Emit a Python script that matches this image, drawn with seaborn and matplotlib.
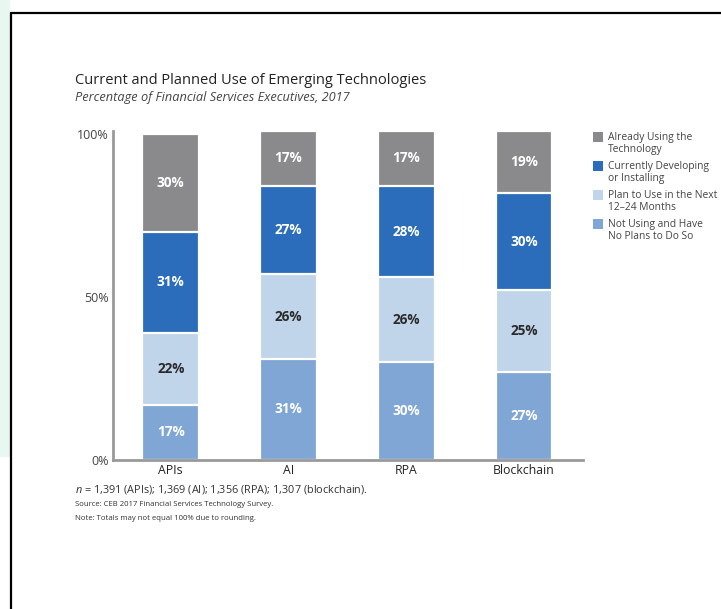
import matplotlib
matplotlib.use("Agg")
import matplotlib.pyplot as plt
import seaborn as sns
import pandas as pd
import numpy as np
from matplotlib.patches import Patch, Rectangle
from matplotlib.lines import Line2D

categories = ["APIs", "AI", "RPA", "Blockchain"]
not_using = [17, 31, 30, 27]
plan_to_use = [22, 26, 26, 25]
developing = [31, 27, 28, 30]
already_using = [30, 17, 17, 19]

series_names = ["Not Using and Have\nNo Plans to Do So",
                "Plan to Use in the Next\n12–24 Months",
                "Currently Developing\nor Installing",
                "Already Using the\nTechnology"]
series_vals = [not_using, plan_to_use, developing, already_using]
colors = ["#7fa6d5", "#c0d4ea", "#2b6dbb", "#8a8a8c"]
text_colors = ["white", "#2a2a2a", "white", "white"]
yticks = [0, 50, 100]
ytick_labels = ["0%", "50%", "100%"]

sns.set_theme(style="white")
FONT = "Open Sans"
plt.rcParams["font.family"] = [FONT, "DejaVu Sans"]
plt.rcParams["mathtext.fontset"] = "custom"
plt.rcParams["mathtext.it"] = f"{FONT}:italic"
plt.rcParams["mathtext.rm"] = FONT

fig = plt.figure(figsize=(7.21, 6.09), dpi=100)
fig.patch.set_facecolor("white")

# screenshot frame
fig.add_artist(Rectangle((0, 0.25), 10/721, 0.75, transform=fig.transFigure, color="#e8f7ef", lw=0, zorder=0))
fig.add_artist(Line2D([11/721, 11/721], [0, (609-13)/609], transform=fig.transFigure, color="black", lw=1.6))
fig.add_artist(Line2D([11/721, 1], [(609-13)/609, (609-13)/609], transform=fig.transFigure, color="black", lw=1.6))

ax = fig.add_axes([113/721, (609-460)/609, (583-113)/721, (460-130.7)/609])

df = pd.DataFrame({"category": categories})
cum = np.zeros(len(categories))
cums = []
for vals in series_vals:
    cum = cum + np.array(vals)
    cums.append(cum.copy())

# draw from tallest cumulative to shortest
for i in range(len(series_vals) - 1, -1, -1):
    d = df.copy()
    d["value"] = cums[i]
    sns.barplot(data=d, x="category", y="value", color=colors[i], width=0.48,
                edgecolor="white", linewidth=1.6, ax=ax, saturation=1, errorbar=None,
                order=categories)

for i, vals in enumerate(series_vals):
    for j, v in enumerate(vals):
        mid = cums[i][j] - v / 2
        ax.text(j, mid, f"{v}%", ha="center", va="center", fontsize=9.8,
                fontweight="bold", color=text_colors[i])

ax.set_xlim(-0.49, 3.5)
ax.set_ylim(0, 101)
ax.set_yticks(yticks)
ax.set_yticklabels(ytick_labels, fontsize=9, color="#444444")
ax.set_xlabel("")
ax.set_ylabel("")
ax.tick_params(axis="x", labelsize=8.8, colors="#222222", pad=3, length=0)
ax.tick_params(axis="y", length=0, pad=3)
for s in ["top", "right"]:
    ax.spines[s].set_visible(False)
for s in ["left", "bottom"]:
    ax.spines[s].set_color("#999999")
    ax.spines[s].set_linewidth(2)

fig.text(75/721, 1 - 80/609, "Current and Planned Use of Emerging Technologies",
         fontsize=10.5, color="#222222", va="center", ha="left")
fig.text(75/721, 1 - 98/609, "Percentage of Financial Services Executives, 2017",
         fontsize=9.2, style="italic", color="#444444", va="center", ha="left")

fig.text(75/721, 1 - 489/609, "$n$ = 1,391 (APIs); 1,369 (AI); 1,356 (RPA); 1,307 (blockchain).",
         fontsize=7.8, color="#333333", va="center", ha="left")
fig.text(75/721, 1 - 504/609, "Source: CEB 2017 Financial Services Technology Survey.",
         fontsize=5.6, color="#333333", va="center", ha="left")
fig.text(75/721, 1 - 518/609, "Note: Totals may not equal 100% due to rounding.",
         fontsize=5.6, color="#333333", va="center", ha="left")

handles = [Patch(facecolor=colors[i], edgecolor="none") for i in range(3, -1, -1)]
labels = [series_names[i] for i in range(3, -1, -1)]
leg = fig.legend(handles, labels, loc="upper left",
                 bbox_to_anchor=(589/721, 1 - 128/609), frameon=False,
                 fontsize=7.4, handlelength=1.0, handleheight=1.0, handletextpad=0.4,
                 labelspacing=0.6, borderaxespad=0)
for t in leg.get_texts():
    t.set_color("#444444")
    t.set_linespacing(1.1)
for h in leg.legend_handles:
    h.set_y(h.get_y() + 5)

fig.savefig("out.png", dpi=100)
